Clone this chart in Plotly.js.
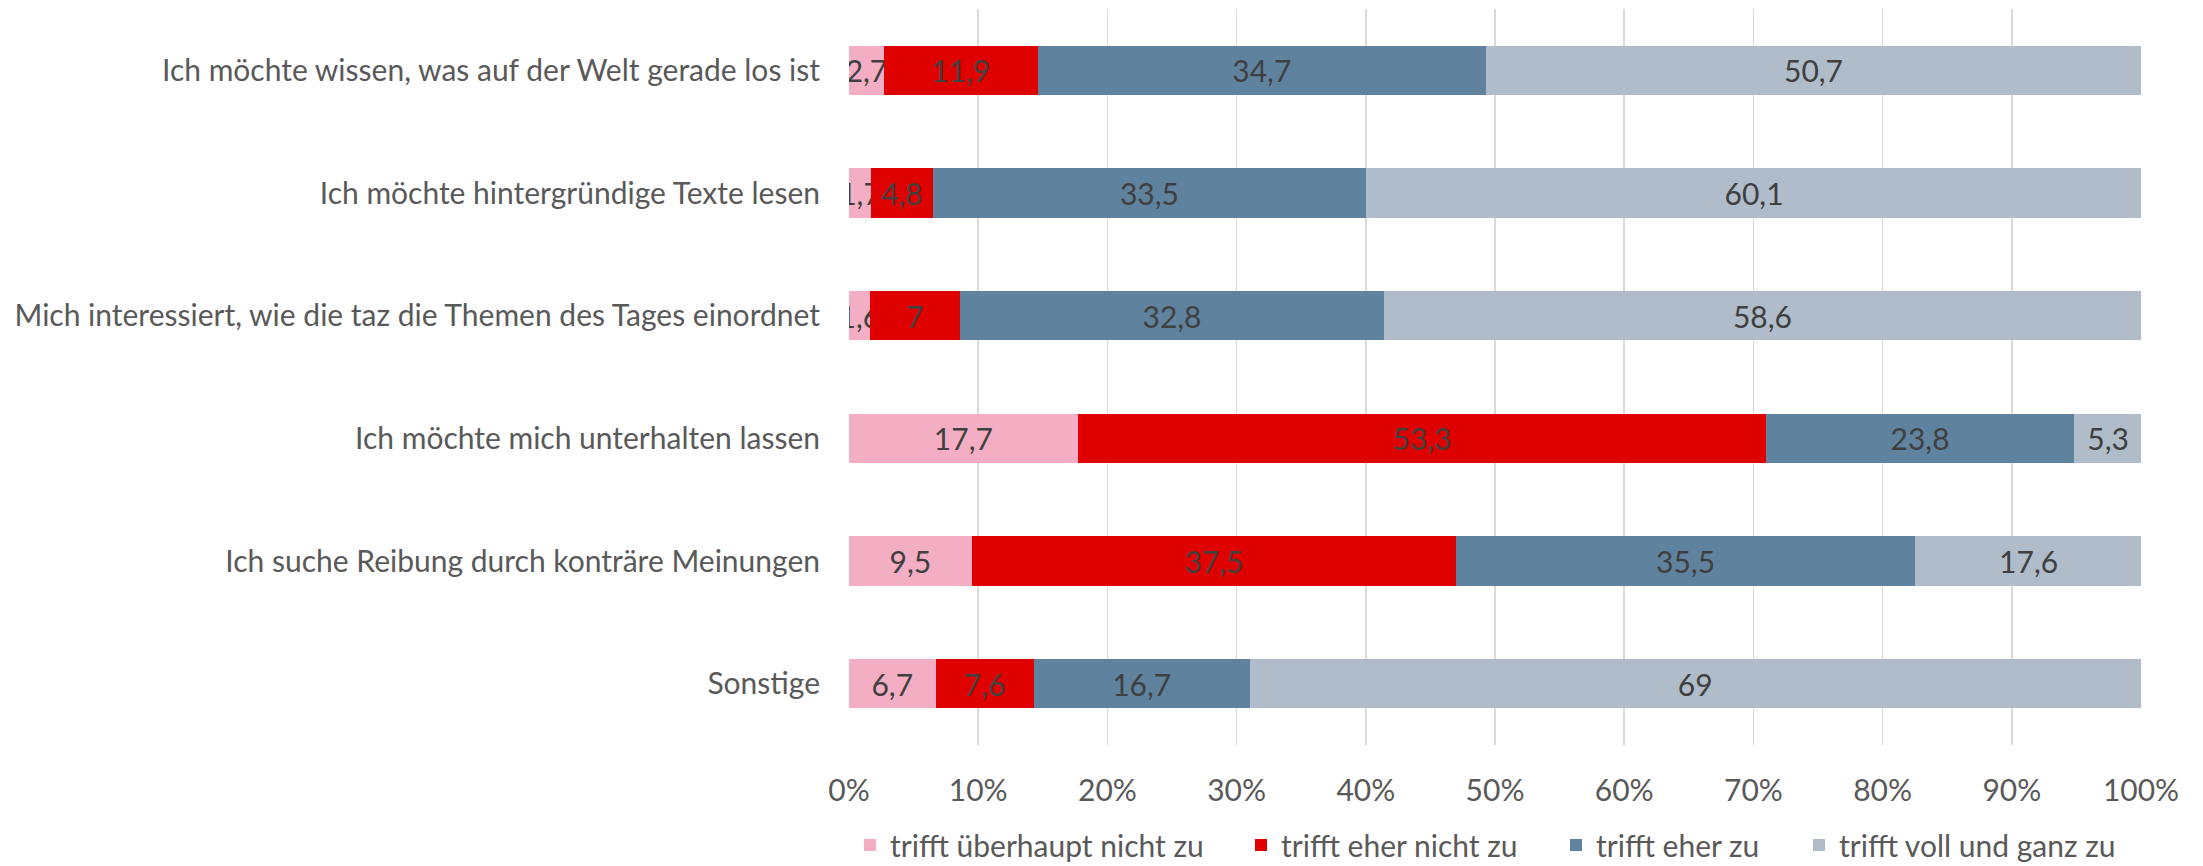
<!DOCTYPE html>
<html>
<head>
<meta charset="utf-8">
<script src="https://cdn.plot.ly/plotly-3.0.1.min.js"></script>
<style>html,body{margin:0;padding:0;background:#fff;}#chart{width:2203px;height:866px;}</style>
</head>
<body>
<div id="chart"></div>
<script>
const categories = [
  "Ich möchte wissen, was auf der Welt gerade los ist",
  "Ich möchte hintergründige Texte lesen",
  "Mich interessiert, wie die taz die Themen des Tages einordnet",
  "Ich möchte mich unterhalten lassen",
  "Ich suche Reibung durch konträre Meinungen",
  "Sonstige"
];
const seriesNames = ["trifft überhaupt nicht zu", "trifft eher nicht zu", "trifft eher zu", "trifft voll und ganz zu"];
const ueberhauptNicht = [2.7, 1.7, 1.6, 17.7, 9.5, 6.7];
const eherNicht = [11.9, 4.8, 7, 53.3, 37.5, 7.6];
const eherZu = [34.7, 33.5, 32.8, 23.8, 35.5, 16.7];
const vollUndGanz = [50.7, 60.1, 58.6, 5.3, 17.6, 69];
const tickVals = [0, 10, 20, 30, 40, 50, 60, 70, 80, 90, 100];
const tickLabels = ["0%", "10%", "20%", "30%", "40%", "50%", "60%", "70%", "80%", "90%", "100%"];

const colors = ["#F4AEC3", "#DF0000", "#5F829E", "#B0BCCA"];
const FONT = 'Lato, "Open Sans", sans-serif';
const FS = 30;
const W = 2203, H = 866;
const allSeries = [ueberhauptNicht, eherNicht, eherZu, vollUndGanz];
const legendIds = ['legend', 'legend2', 'legend3', 'legend4'];
const legendTextStart = [890, 1281, 1596, 1839];

const traces = allSeries.map((vals, i) => ({
  type: 'bar',
  orientation: 'h',
  name: seriesNames[i],
  legend: legendIds[i],
  y: categories,
  x: vals,
  text: vals.map(v => String(v).replace('.', ',')),
  textposition: 'inside',
  insidetextanchor: 'middle',
  textangle: 0,
  constraintext: 'none',
  textfont: {family: FONT, size: FS, color: '#404040'},
  marker: {color: colors[i], line: {width: 0}},
  hoverinfo: 'none'
}));

const layout = {
  width: W,
  height: H,
  barmode: 'stack',
  bargap: 0.6,
  paper_bgcolor: '#fff',
  plot_bgcolor: '#fff',
  margin: {l: 849, r: 62, t: 9, b: 121, pad: 0},
  uniformtext: {mode: 'show', minsize: FS},
  font: {family: FONT, size: FS, color: '#595959'},
  xaxis: {
    range: [0, 100],
    tickvals: tickVals,
    ticktext: tickLabels,
    showgrid: true,
    gridcolor: '#D9D9D9',
    gridwidth: 1.5,
    zeroline: false,
    showline: false,
    ticks: '',
    ticklabelstandoff: 25,
    tickfont: {family: FONT, size: FS, color: '#595959'},
    fixedrange: true
  },
  yaxis: {
    autorange: 'reversed',
    showgrid: false,
    zeroline: false,
    showline: false,
    ticks: '',
    ticklabelstandoff: 28,
    tickfont: {family: FONT, size: FS, color: '#595959'},
    fixedrange: true
  },
  showlegend: true
};

legendIds.forEach((id, i) => {
  layout[id] = {
    orientation: 'h',
    xref: 'container',
    yref: 'container',
    x: (legendTextStart[i] - 40) / W,
    xanchor: 'left',
    y: 1 - 845 / H,
    yanchor: 'middle',
    font: {family: FONT, size: FS, color: '#595959'},
    itemwidth: 30,
    bgcolor: 'rgba(0,0,0,0)',
    borderwidth: 0
  };
});

Plotly.newPlot('chart', traces, layout, {displayModeBar: false, staticPlot: true});
</script>
</body>
</html>
